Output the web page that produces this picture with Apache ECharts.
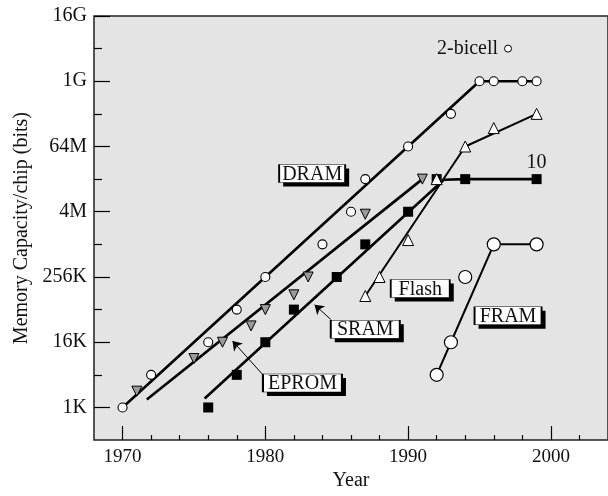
<!DOCTYPE html>
<html><head><meta charset="utf-8">
<script src="https://cdn.jsdelivr.net/npm/echarts@6/dist/echarts.min.js"></script>
<style>html,body{margin:0;padding:0;background:#fff}#c{width:608px;height:496px}</style>
</head><body><div id="c"></div><script>
const K = 1024, M = K * K, G = M * K;

// axis ticks
const xTickYears = [1970, 1980, 1990, 2000];
const xMinorYears = [1972, 1974, 1976, 1978, 1982, 1984, 1986, 1988, 1992, 1994, 1996, 1998, 2002];
const yTickExps = [10, 14, 18, 22, 26, 30, 34];
const yTickLabels = ['1K', '16K', '256K', '4M', '64M', '1G', '16G'];
const yMinorExps = [12, 16, 20, 24, 28, 32];

// DRAM
const dramYears = [1970, 1972, 1976, 1978, 1980, 1984, 1986, 1987, 1990, 1993, 1995, 1996, 1998, 1999];
const dramBits = [1*K, 4*K, 16*K, 64*K, 256*K, 1*M, 4*M, 16*M, 64*M, 256*M, 1*G, 1*G, 1*G, 1*G];
const dramTrendYears = [1970, 1995, 1999];
const dramTrendBits = [1*K, 1*G, 1*G];

// EPROM
const epromYears = [1971, 1975, 1977, 1979, 1980, 1982, 1983, 1987, 1991];
const epromBits = [2*K, 8*K, 16*K, 32*K, 64*K, 120*K, 256*K, 3.6*M, 16*M];
const epromTrendYears = [1971.7, 1991];
const epromTrendBits = [1.4*K, 16*M];

// SRAM
const sramYears = [1976, 1978, 1980, 1982, 1985, 1987, 1990, 1992, 1994, 1999];
const sramBits = [1*K, 4*K, 16*K, 64*K, 256*K, 1*M, 4*M, 16*M, 16*M, 16*M];
const sramTrendYears = [1975.75, 1992.5, 1994, 1999];
const sramTrendBits = [1.46*K, 15.6*M, 16*M, 16*M];

// Flash
const flashYears = [1987, 1988, 1990, 1992, 1994, 1996, 1999];
const flashBits = [114*K, 256*K, 1.2*M, 16*M, 64*M, 140*M, 256*M];
const flashTrendYears = [1987, 1994, 1999];
const flashTrendBits = [114*K, 64*M, 256*M];

// FRAM
const framYears = [1992, 1993, 1994, 1996, 1999];
const framBits = [4*K, 16*K, 256*K, 1*M, 1*M];
const framTrendYears = [1992, 1993, 1996, 1999];
const framTrendBits = [4*K, 16*K, 1*M, 1*M];

// 2-bicell
const bicellYears = [1997];
const bicellBits = [4*G];

// annotation texts
const boxTexts = ['DRAM', 'EPROM', 'SRAM', 'Flash', 'FRAM'];
const noteText = '10';
const bicellText = '2-bicell';

const pairs = (xs, ys) => xs.map((x, i) => [x, ys[i]]);
const FONT = "'Liberation Serif','Times New Roman',serif";
const TXT = '#111';

// annotation anchors in data space (year, log2 bits) and horizontal box padding
const boxAnchors = [[1983.28, 24.35, 3], [1982.6, 11.5, 5], [1987.0, 14.8, 6], [1990.85, 17.29, 8], [1997.0, 15.62, 5]];
const arrowAnchors = [[1979.77, 12.06, 1977.70, 14.08], [1984.59, 15.39, 1983.45, 16.30]];

// box sizes from measured text
const measureCtx = document.createElement('canvas').getContext('2d');
measureCtx.font = "20px 'Liberation Serif','Times New Roman',serif";
const BOX_H = 18;
const boxSizes = boxTexts.map((t, i) => [Math.round(measureCtx.measureText(t).width + 2 * boxAnchors[i][2]), BOX_H]);
const boxData = boxAnchors.map(a => [a[0], Math.pow(2, a[1])]);

function lineSeries(xs, ys, w) {
  return { type: 'line', data: pairs(xs, ys), symbol: 'none', showSymbol: false, silent: true,
    lineStyle: { color: '#000', width: w }, z: 2, animation: false };
}
function scatterSeries(xs, ys, symbol, size, fill, rot, bw) {
  return { type: 'scatter', data: pairs(xs, ys), symbol: symbol, symbolSize: size, symbolRotate: rot || 0,
    itemStyle: { color: fill, borderColor: '#000', borderWidth: bw, opacity: 1 }, z: 3, silent: true, animation: false };
}

const dramLine = lineSeries(dramTrendYears, dramTrendBits, 2.6);
dramLine.markPoint = {
  symbol: 'rect', symbolSize: 1, itemStyle: { color: 'rgba(0,0,0,0)' }, animation: false, silent: true,
  label: { show: true, position: 'inside', formatter: '{b}', color: TXT, fontFamily: FONT, fontSize: 20 },
  data: [{ name: noteText, coord: [1999, 32*M] }]
};
dramLine.markLine = {
  symbol: ['none', 'arrow'], symbolSize: 9, silent: true, animation: false, label: { show: false },
  lineStyle: { color: '#000', width: 1, type: 'solid' },
  data: arrowAnchors.map(a => [{ coord: [a[0], Math.pow(2, a[1])] }, { coord: [a[2], Math.pow(2, a[3])] }])
};

const bicell = scatterSeries(bicellYears, bicellBits, 'circle', 7, '#fff', 0, 1);
bicell.label = { show: true, position: 'left', distance: 6, formatter: bicellText, color: TXT, fontFamily: FONT, fontSize: 20 };

// drop shadows of the label boxes: black rectangles shifted 4 px right and down
const shadowSeries = {
  type: 'scatter', data: boxData, symbol: 'rect', silent: true, animation: false, z: 10,
  symbolSize: (v, p) => boxSizes[p.dataIndex], symbolOffset: [4, 4],
  itemStyle: { color: '#000', opacity: 1 }
};
// white label boxes with their text
const boxSeries = {
  type: 'scatter', data: boxData, symbol: 'rect', silent: true, animation: false, z: 11,
  symbolSize: (v, p) => boxSizes[p.dataIndex],
  itemStyle: { color: '#fff', borderColor: '#000', borderWidth: 1, opacity: 1 },
  label: { show: true, position: 'inside', formatter: p => boxTexts[p.dataIndex], color: TXT,
    fontFamily: FONT, fontSize: 20, offset: [0, 1] }
};

const chart = echarts.init(document.getElementById('c'), null, { renderer: 'canvas' });
chart.setOption({
  animation: false,
  backgroundColor: '#fff',
  grid: { left: 94, top: 16, right: -8, bottom: 51, show: true, backgroundColor: '#e4e4e4', borderColor: '#222', borderWidth: 1.5 },
  xAxis: [
    { type: 'value', min: 1968, max: 2004, position: 'bottom',
      name: 'Year', nameLocation: 'middle', nameGap: 30,
      nameTextStyle: { color: TXT, fontFamily: FONT, fontSize: 20 },
      axisLine: { show: false }, splitLine: { show: false },
      axisTick: { show: true, inside: true, length: 14, customValues: xTickYears, lineStyle: { color: '#000', width: 1.2 } },
      axisLabel: { show: true, customValues: xTickYears, margin: 7, color: TXT, fontFamily: FONT, fontSize: 19,
        formatter: v => String(v) } },
    { type: 'value', min: 1968, max: 2004, position: 'bottom',
      axisLine: { show: false }, splitLine: { show: false }, axisLabel: { show: false },
      axisTick: { show: true, inside: true, length: 5, customValues: xMinorYears, lineStyle: { color: '#000', width: 1.2 } } }
  ],
  yAxis: [
    { type: 'log', logBase: 2, min: 256, max: 16*G, position: 'left',
      axisLine: { show: false }, axisTick: { show: false }, axisLabel: { show: false }, splitLine: { show: false }, minorSplitLine: { show: false } },
    { type: 'value', min: 8, max: 34, position: 'left',
      name: 'Memory Capacity/chip (bits)', nameLocation: 'middle', nameGap: 58,
      nameTextStyle: { color: TXT, fontFamily: FONT, fontSize: 20 },
      axisLine: { show: false }, splitLine: { show: false },
      axisTick: { show: true, inside: true, length: 16, customValues: yTickExps, lineStyle: { color: '#000', width: 1.2 } },
      axisLabel: { show: true, customValues: yTickExps, margin: 7, color: TXT, fontFamily: FONT, fontSize: 20,
        formatter: v => { const i = yTickExps.indexOf(v); return i >= 0 ? yTickLabels[i] : ''; } } },
    { type: 'value', min: 8, max: 34, position: 'left',
      axisLine: { show: false }, splitLine: { show: false }, axisLabel: { show: false },
      axisTick: { show: true, inside: true, length: 8, customValues: yMinorExps, lineStyle: { color: '#000', width: 1.2 } } }
  ],
  series: [
    dramLine,
    lineSeries(epromTrendYears, epromTrendBits, 2.6),
    lineSeries(sramTrendYears, sramTrendBits, 2.6),
    lineSeries(flashTrendYears, flashTrendBits, 2),
    lineSeries(framTrendYears, framTrendBits, 2),
    scatterSeries(dramYears, dramBits, 'circle', 9, '#fff', 0, 1.1),
    scatterSeries(epromYears, epromBits, 'triangle', 10, '#9a9a9a', 180, 1),
    scatterSeries(sramYears, sramBits, 'rect', 10, '#000', 0, 0),
    scatterSeries(flashYears, flashBits, 'triangle', 11, '#fff', 0, 1),
    scatterSeries(framYears, framBits, 'circle', 13, '#fff', 0, 1.2),
    bicell,
    shadowSeries,
    boxSeries
  ]
});
</script></body></html>
